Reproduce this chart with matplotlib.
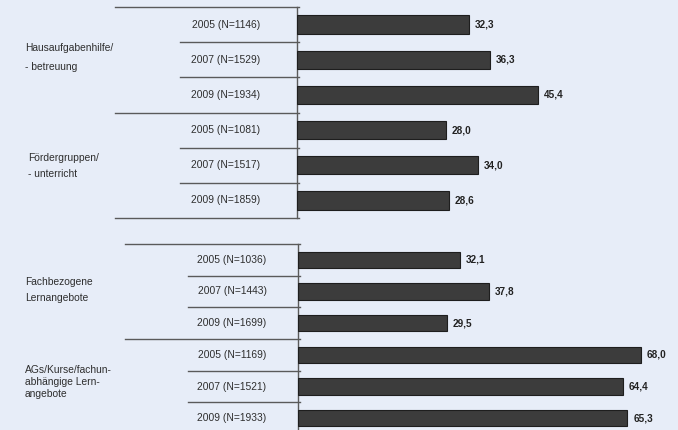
import matplotlib
matplotlib.use("Agg")
import matplotlib.pyplot as plt
from matplotlib.transforms import blended_transform_factory

plt.rcParams['font.family'] = ['Liberation Sans', 'DejaVu Sans']

W, H = 678, 430
BG = '#e7edf8'
BAR = '#3c3c3c'
LINE = '#5a5a5a'
TXT = '#2e2e2e'

# Upper block
top_rows = ["2005 (N=1146)", "2007 (N=1529)", "2009 (N=1934)",
            "2005 (N=1081)", "2007 (N=1517)", "2009 (N=1859)"]
top_values = [32.3, 36.3, 45.4, 28.0, 34.0, 28.6]
top_groups = [["Hausaufgabenhilfe/", "- betreuung"],
              ["Fördergruppen/", "- unterricht"]]

# Lower block
bot_rows = ["2005 (N=1036)", "2007 (N=1443)", "2009 (N=1699)",
            "2005 (N=1169)", "2007 (N=1521)", "2009 (N=1933)"]
bot_values = [32.1, 37.8, 29.5, 68.0, 64.4, 65.3]
bot_groups = [["Fachbezogene", "Lernangebote"],
              ["AGs/Kurse/fachun-", "abhängige Lern-", "angebote"]]

fig = plt.figure(figsize=(W / 100, H / 100), dpi=100, facecolor=BG)


def px_axes(left, top, right, bottom):
    return fig.add_axes([left / W, 1 - bottom / H, (right - left) / W, (bottom - top) / H])


def panel(ax, rows, values, xmax, outer_px, inner_px, label_cx, axis_px, width_px):
    ax.set_facecolor('none')
    n = len(rows)
    ys = list(range(n))
    ax.barh(ys, values, height=0.52, color=BAR, edgecolor='#1e1e1e', linewidth=0.8, zorder=3)
    ax.set_xlim(0, xmax)
    ax.set_ylim(n - 0.5, -0.5)
    for s in ax.spines.values():
        s.set_visible(False)
    ax.set_xticks([])
    ax.set_yticks([])
    tr = blended_transform_factory(ax.transAxes, ax.transData)
    def fx(px):
        return (px - axis_px) / width_px
    # vertical axis line
    ax.plot([0, 0], [-0.5, n - 0.5], transform=tr, color=LINE, lw=1.0, clip_on=False)
    # group boundaries
    for y in (-0.5, 2.5, 5.5):
        ax.plot([fx(outer_px), fx(axis_px + 2)], [y, y], transform=tr,
                color=LINE, lw=1.0, clip_on=False)
    # separators between years
    for y in (0.5, 1.5, 3.5, 4.5):
        ax.plot([fx(inner_px), fx(axis_px + 2)], [y, y], transform=tr,
                color=LINE, lw=1.0, clip_on=False)
    for y, lab in zip(ys, rows):
        ax.text(fx(label_cx), y, lab, transform=tr, ha='center', va='center',
                fontsize=7.4, color=TXT)
    for y, v in zip(ys, values):
        ax.annotate(f"{v:.1f}".replace('.', ','), (v, y), xytext=(4.5, 0),
                    textcoords='offset points', ha='left', va='center',
                    fontsize=7.2, fontweight='bold', color='#222222')


ax1 = px_axes(297, 7, W, 218)
panel(ax1, top_rows, top_values, (W - 297) / 5.31, 115, 180, 226, 297, W - 297)

ax2 = px_axes(298, 244, W, 434)
panel(ax2, bot_rows, bot_values, (W - 298) / 5.04, 125, 188, 232, 298, W - 298)


def group_text(x, ys, lines):
    for y, s in zip(ys, lines):
        fig.text(x / W, 1 - y / H, s, ha='left', va='center', fontsize=7.4, color=TXT)


group_text(25, [48, 67], top_groups[0])
group_text(28, [158, 174], top_groups[1])
group_text(25, [282, 298], bot_groups[0])
group_text(25, [370, 382, 394], bot_groups[1])

fig.savefig("out.png", dpi=100, facecolor=BG)
